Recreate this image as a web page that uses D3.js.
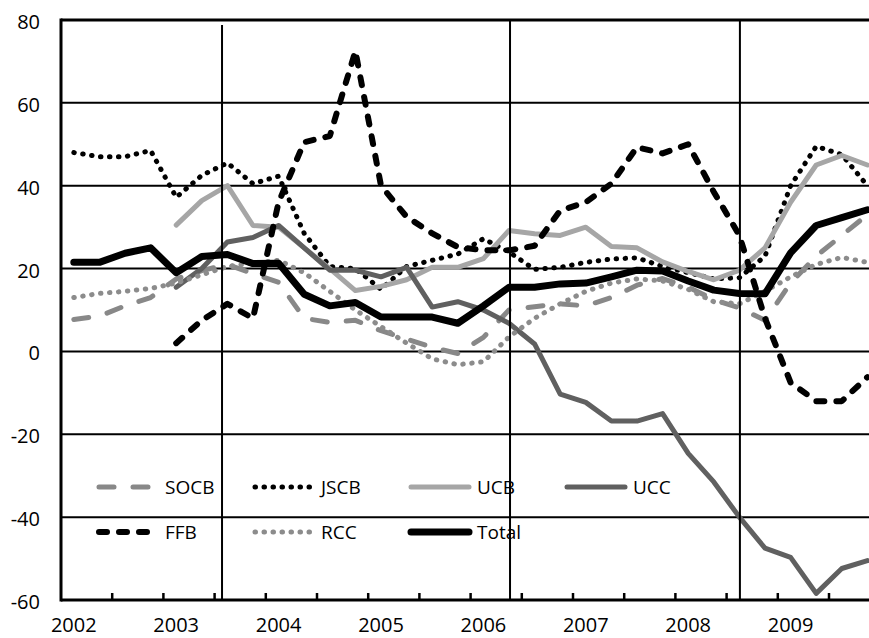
<!DOCTYPE html>
<html><head><meta charset="utf-8">
<script src="https://cdn.jsdelivr.net/npm/d3@7/dist/d3.min.js"></script>
<style>html,body{margin:0;padding:0;background:#fff;overflow:hidden}</style>
</head><body><svg id="c" width="869" height="638"></svg>
<script>
// ---- data ----
const categories = ["2002Q1","2002Q2","2002Q3","2002Q4","2003Q1","2003Q2","2003Q3","2003Q4",
  "2004Q1","2004Q2","2004Q3","2004Q4","2005Q1","2005Q2","2005Q3","2005Q4",
  "2006Q1","2006Q2","2006Q3","2006Q4","2007Q1","2007Q2","2007Q3","2007Q4",
  "2008Q1","2008Q2","2008Q3","2008Q4","2009Q1","2009Q2","2009Q3","2009Q4"];
const yearLabels = ["2002","2003","2004","2005","2006","2007","2008","2009"];
const yTicks = [-60,-40,-20,0,20,40,60,80];
const seriesNames = ["SOCB","JSCB","UCB","UCC","FFB","RCC","Total"];
const SOCB = [7.7,8.5,11,13,17.5,19.5,21,18.8,16.7,8,7,7.5,5,3,1,-0.5,3.4,10,10.8,11.5,11,13,16,17.6,15.5,12.5,10.5,7.5,16.5,23,28,33];
const JSCB = [48,47,47,48.5,37.2,42.5,45.5,40.5,42.3,28.5,20.5,20,15,20.5,22,23.5,27.2,24,19.8,20.3,21.5,22.3,22.6,20.5,19,17.5,17.8,23,40,49.5,47.5,40];
const UCB  = [null,null,null,null,30.5,36.4,40,30.4,30,25,20,14.7,15.7,17.3,20.3,20.3,22.4,29.2,28.4,28,30,25.3,25,21.6,19.3,17.3,19.6,25,36,45,47.3,45];
const UCC  = [null,null,null,null,15.5,20,26.4,27.5,30.4,25,19.6,19.6,18,20.3,10.7,12,10,6.8,1.8,-10.3,-12.3,-16.8,-16.8,-15,-24.6,-31.5,-40,-47.5,-49.7,-58.4,-52.4,-50.5];
const FFB  = [null,null,null,null,2,7.5,11.5,8,36,50.5,52,72.5,40,32.5,28.5,25.2,24.4,24.4,25.5,34,36,40.5,49.3,47.8,50,38.5,28,8,-7.5,-12,-12,-6.2];
const RCC  = [13,14,14.5,15.2,16.5,18.5,20.5,21.3,22,19,14.5,10,6,2,-1.8,-3.2,-2.5,3.5,8,11.5,14.5,16.5,17.5,17,15,12,11.5,14.5,18,21,22.7,21.5];
const Total= [21.5,21.5,23.7,25,19,22.9,23.4,21.2,21.3,13.8,11,11.8,8.3,8.3,8.3,6.8,11,15.5,15.5,16.3,16.5,18,19.6,19.4,17,14.8,14,13.9,23.8,30.4,32.3,34.2];
// vertical event markers, in category units from the left edge
const eventLines = [6.29, 17.54, 26.52];

(function(){
// ---- styles ----
const styles = {
  SOCB: {color:"#888888", width:5, dash:"15,19", cap:"round"},
  JSCB: {color:"#000000", width:5, dash:"0.5,8.5", cap:"round"},
  UCB:  {color:"#a6a6a6", width:5, dash:null, cap:"round"},
  UCC:  {color:"#606060", width:5, dash:null, cap:"round"},
  FFB:  {color:"#000000", width:6, dash:"8,12", cap:"round"},
  RCC:  {color:"#8c8c8c", width:5, dash:"0.5,8.5", cap:"round"},
  Total:{color:"#000000", width:7, dash:null, cap:"round"}
};
const dataMap = {SOCB, JSCB, UCB, UCC, FFB, RCC, Total};

const svg = d3.select("#c");
const font = "'Open Sans', 'Liberation Sans', sans-serif";
const pLeft = 61, pTop = 20, pBottom = 600, bandW = 25.6;
const pRight = pLeft + bandW*categories.length;

const x = d3.scaleBand().domain(categories).range([pLeft, pRight]).padding(0);
const xl = d3.scaleLinear().domain([0, categories.length]).range([pLeft, pRight]);
const y = d3.scaleLinear().domain([-60, 80]).range([pBottom, pTop]);
const cx = c => x(c) + x.bandwidth()/2;

// gridlines
svg.append("g").selectAll("line").data(yTicks.filter(v => v > -60 && v < 80)).join("line")
  .attr("x1", pLeft).attr("x2", pRight).attr("y1", d => y(d)).attr("y2", d => y(d))
  .attr("stroke", "#000").attr("stroke-width", 2);

// y labels
svg.append("g").selectAll("text").data(yTicks).join("text")
  .attr("x", 40).attr("y", d => y(d) + 9).attr("text-anchor", "end")
  .attr("font-family", font).attr("font-size", 20).attr("fill", "#000")
  .text(d => d);

// series lines
const line = d3.line().defined(d => d.v !== null).x(d => cx(d.c)).y(d => y(d.v)).curve(d3.curveLinear);
seriesNames.forEach(name => {
  const st = styles[name];
  const pts = categories.map((c, i) => ({c, v: dataMap[name][i]}));
  svg.append("path").datum(pts).attr("d", line)
    .attr("fill", "none").attr("stroke", st.color).attr("stroke-width", st.width)
    .attr("stroke-linejoin", "round").attr("stroke-linecap", st.cap)
    .attr("stroke-dasharray", st.dash);
});

// legend
const legendCols = [97, 253, 409, 565];
const legendRows = [487, 532];
seriesNames.forEach((name, i) => {
  const st = styles[name];
  const col = i % 4, row = Math.floor(i / 4);
  const lx = legendCols[col], ly = legendRows[row];
  svg.append("line").attr("x1", lx + 2).attr("x2", lx + 60).attr("y1", ly).attr("y2", ly)
    .attr("stroke", st.color).attr("stroke-width", st.width)
    .attr("stroke-linecap", st.cap).attr("stroke-dasharray", st.dash);
  svg.append("text").attr("x", lx + 68).attr("y", ly + 7)
    .attr("font-family", font).attr("font-size", 19).attr("fill", "#000").text(name);
});

// event vertical lines
svg.append("g").selectAll("line").data(eventLines).join("line")
  .attr("x1", d => xl(d)).attr("x2", d => xl(d))
  .attr("y1", (d, i) => i === 0 ? pTop + 5 : pTop).attr("y2", pBottom)
  .attr("stroke", "#000").attr("stroke-width", 2);

// frame: top border, left axis, bottom axis
svg.append("line").attr("x1", pLeft).attr("x2", pRight).attr("y1", pTop).attr("y2", pTop)
  .attr("stroke", "#000").attr("stroke-width", 3);
svg.append("line").attr("x1", pLeft).attr("x2", pLeft).attr("y1", pTop - 1.5).attr("y2", pBottom + 1.5)
  .attr("stroke", "#000").attr("stroke-width", 3);
svg.append("line").attr("x1", pLeft).attr("x2", pRight).attr("y1", pBottom).attr("y2", pBottom)
  .attr("stroke", "#000").attr("stroke-width", 3);

// x tick marks every 2 categories (inside)
const tickCats = categories.filter((c, i) => i > 0 && i % 2 === 0);
svg.append("g").selectAll("line").data(tickCats).join("line")
  .attr("x1", d => x(d)).attr("x2", d => x(d)).attr("y1", pBottom).attr("y2", pBottom - 7)
  .attr("stroke", "#000").attr("stroke-width", 2.5);

// year labels at first quarter of each year
svg.append("g").selectAll("text").data(yearLabels).join("text")
  .attr("x", d => cx(d + "Q1")).attr("y", 632).attr("text-anchor", "middle")
  .attr("font-family", font).attr("font-size", 20).attr("fill", "#000").text(d => d);
})();
</script></body></html>
